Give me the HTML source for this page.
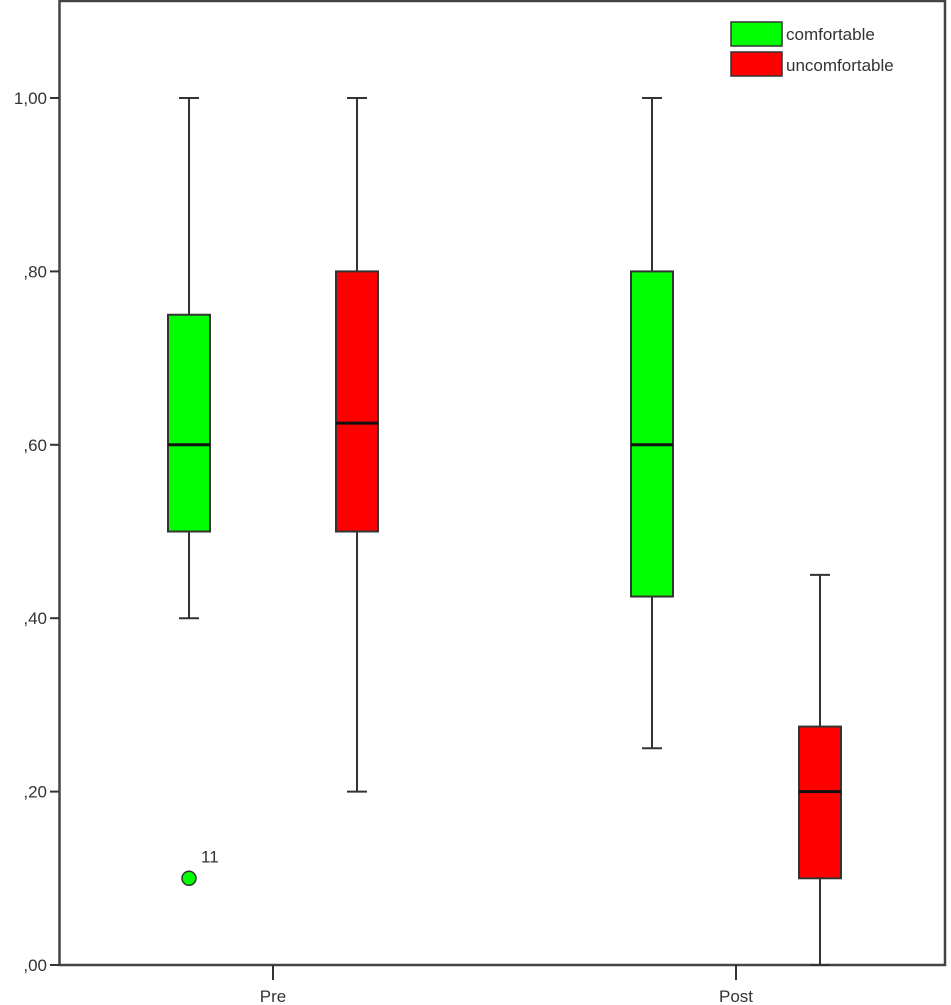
<!DOCTYPE html>
<html><head><meta charset="utf-8"><style>
html,body{margin:0;padding:0;background:#fff;width:951px;height:1005px;overflow:hidden}
svg{display:block;font-family:"Liberation Sans",Arial,sans-serif}
</style></head><body>
<svg id="chart" width="951" height="1005" viewBox="0 0 951 1005" xmlns="http://www.w3.org/2000/svg">
<rect x="59.5" y="1" width="885.5" height="964" fill="#fff" stroke="#444" stroke-width="2.5"/>
<g id="marks"></g>
<g>
<rect x="731" y="22" width="51" height="24" fill="#00ff00" stroke="#333" stroke-width="1.5"/>
<text x="786" y="40" font-size="17" fill="#333">comfortable</text>
<rect x="731" y="52" width="51" height="24" fill="#ff0000" stroke="#333" stroke-width="1.5"/>
<text x="786" y="71" font-size="17" fill="#333">uncomfortable</text>
</g>
</svg>
<script>
const groups = ["Pre","Post"];
const seriesNames = ["comfortable","uncomfortable"];
const mins    = [[0.40,0.20],[0.25,0.00]];
const q1s     = [[0.50,0.50],[0.425,0.10]];
const medians = [[0.60,0.625],[0.60,0.20]];
const q3s     = [[0.75,0.80],[0.80,0.275]];
const maxs    = [[1.00,1.00],[1.00,0.45]];
const outlierValues = [[[0.10],[]],[[],[]]];
const outlierLabels = [[["11"],[]],[[],[]]];
const yTicks = [0,0.2,0.4,0.6,0.8,1.0];
const yTickLabels = [",00",",20",",40",",60",",80","1,00"];

const colors = ["#00ff00","#ff0000"];
const NS="http://www.w3.org/2000/svg";
const svg=document.getElementById('chart');
const g=document.getElementById('marks');
function y(v){return 965 - v*867;}
function gx(i){return 273 + i*463;}
function sx(i,j){return gx(i) + (j===0?-84:84);}
function el(tag,attrs,parent){const e=document.createElementNS(NS,tag);for(const k in attrs)e.setAttribute(k,attrs[k]);(parent||g).appendChild(e);return e;}

yTicks.forEach((t,k)=>{
  const l=el('line',{x1:50,x2:59,y1:y(t),y2:y(t),stroke:'#333','stroke-width':2});
  
  
  const tx=el('text',{x:47,y:y(t)+6,'text-anchor':'end','font-size':17,fill:'#333'});
  tx.textContent=yTickLabels[k];
  
  
});
groups.forEach((gname,i)=>{
  const l=el('line',{x1:gx(i),x2:gx(i),y1:965,y2:980,stroke:'#333','stroke-width':2});
  
  
  const tx=el('text',{x:gx(i),y:1002,'text-anchor':'middle','font-size':17,fill:'#333'});
  tx.textContent=gname;
  
  
  seriesNames.forEach((s,j)=>{
    const cx=sx(i,j), hw=21;
    const w=el('line',{x1:cx,x2:cx,y1:y(maxs[i][j]),y2:y(mins[i][j]),stroke:'#333','stroke-width':2});
    
    
    [maxs[i][j],mins[i][j]].forEach(v=>{
      const c=el('line',{x1:cx-10,x2:cx+10,y1:y(v),y2:y(v),stroke:'#333','stroke-width':2});
      
      
    });
    const b=el('rect',{x:cx-hw,y:y(q3s[i][j]),width:hw*2,height:y(q1s[i][j])-y(q3s[i][j]),fill:colors[j],stroke:'#333','stroke-width':2});
    
    
    const m=el('line',{x1:cx-hw,x2:cx+hw,y1:y(medians[i][j]),y2:y(medians[i][j]),stroke:'#111','stroke-width':3});
    
    
    outlierValues[i][j].forEach((v,k)=>{
      const o=el('circle',{cx:cx,cy:y(v),r:7,fill:colors[j],stroke:'#333','stroke-width':1.5});
      
      
      const t=el('text',{x:cx+12,y:y(v)-16,'font-size':17,fill:'#333'});
      t.textContent=outlierLabels[i][j][k];
      
      
    });
  });
});
</script>
</body></html>
